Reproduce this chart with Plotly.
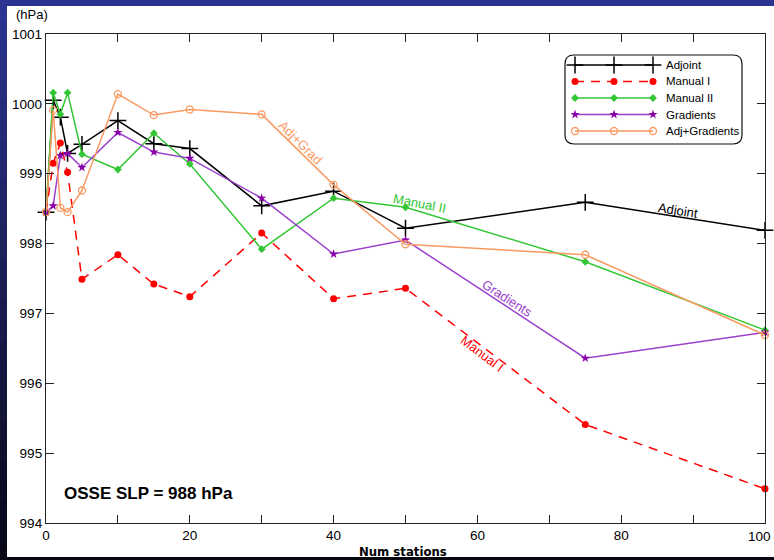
import plotly.graph_objects as go

# ---------------- data ----------------
stations = [0, 1, 2, 3, 5, 10, 15, 20, 30, 40, 50, 75, 100]
adjoint = [998.45, 1000.05, 999.81, 999.29, 999.42, 999.76, 999.43, 999.36, 998.54, 998.75, 998.22, 998.59, 998.19]
manual_1 = [998.45, 999.15, 999.44, 999.02, 997.49, 997.84, 997.42, 997.24, 998.15, 997.21, 997.36, 995.41, 994.49]
manual_2 = [998.45, 1000.16, 999.85, 1000.16, 999.28, 999.06, 999.58, 999.14, 997.92, 998.65, 998.52, 997.74, 996.76]
gradients = [998.45, 998.54, 999.26, 999.29, 999.09, 999.59, 999.31, 999.22, 998.65, 997.85, 998.05, 996.36, 996.73]
adj_grad = [998.45, 999.91, 998.51, 998.45, 998.76, 1000.14, 999.84, 999.92, 999.85, 998.84, 997.99, 997.84, 996.69]

series_names = ["Adjoint", "Manual I", "Manual II", "Gradients", "Adj+Gradients"]
x_tickvals = [0, 10, 20, 30, 40, 50, 60, 70, 80, 90, 100]
x_ticktext = ["0", "", "20", "", "40", "", "60", "", "80", "", ""]
x_last_label = "100"
y_tickvals = [994, 995, 996, 997, 998, 999, 1000, 1001]

# ---------------- geometry ----------------
W, H = 774, 560
L, R, T, B = 46, 9, 34, 37
PW, PH = W - L - R, H - T - B


def px(x):
    return (x - L) / PW


def py(y):
    return (H - B - y) / PH


BLACK = "#000000"
RED = "#ff0000"
GREEN = "#33c633"
PURPLE = "#9a3fcc"
PURPLE_M = "#8a00a8"
ORANGE = "#f99a62"
FONT = "Liberation Sans, Arial, sans-serif"

styles = [
    dict(line=dict(color=BLACK, width=1.5),
         marker=dict(symbol="cross-thin-open", size=12, line=dict(color=BLACK, width=1.5))),
    dict(line=dict(color=RED, width=1.5, dash="9px,7px"),
         marker=dict(symbol="circle", size=7, color=RED)),
    dict(line=dict(color=GREEN, width=1.5),
         marker=dict(symbol="diamond", size=6, color=GREEN)),
    dict(line=dict(color=PURPLE, width=1.5),
         marker=dict(symbol="star", size=7, color=PURPLE_M)),
    dict(line=dict(color=ORANGE, width=1.5),
         marker=dict(symbol="circle-open", size=7, color=ORANGE, line=dict(color=ORANGE, width=1.3))),
]
values = [adjoint, manual_1, manual_2, gradients, adj_grad]

fig = go.Figure()
for name, vals, st in zip(series_names, values, styles):
    fig.add_trace(go.Scatter(x=stations, y=vals, mode="lines+markers", name=name,
                             showlegend=False, cliponaxis=False, **st))

# custom legend (three markers per entry) on an overlay axis
for k, (name, st) in enumerate(zip(series_names, styles)):
    fig.add_trace(go.Scatter(x=[0, 1, 2], y=[k, k, k], mode="lines+markers", xaxis="x2", yaxis="y2",
                             showlegend=False, hoverinfo="skip", cliponaxis=False, **st))

shapes = []
# background frame
shapes.append(dict(type="rect", xref="paper", yref="paper", x0=px(0), x1=px(W), y0=py(H), y1=py(0),
                   fillcolor="#06060f", line=dict(width=0), layer="below"))
nb = 28
top = (44, 52, 146)
bot = (8, 8, 24)
for i in range(nb):
    t = i / (nb - 1)
    c = tuple(int(top[j] + (bot[j] - top[j]) * t) for j in range(3))
    shapes.append(dict(type="rect", xref="paper", yref="paper",
                       x0=px(0), x1=px(8), y0=py((i + 1) * H / nb + 1), y1=py(i * H / nb),
                       fillcolor="rgb(%d,%d,%d)" % c, line=dict(width=0), layer="below"))
shapes.append(dict(type="rect", xref="paper", yref="paper", x0=px(0), x1=px(W), y0=py(6), y1=py(0),
                   fillcolor="rgb(44,52,146)", line=dict(width=0), layer="below"))
shapes.append(dict(type="rect", xref="paper", yref="paper", x0=px(7), x1=px(W), y0=py(557), y1=py(6),
                   fillcolor="#ffffff", line=dict(width=0), layer="below"))

# legend rounded box
bx0, bx1, by0, by1, r = 565, 742, 55, 144, 9
path = (f"M {px(bx0 + r)},{py(by0)} L {px(bx1 - r)},{py(by0)} "
        f"Q {px(bx1)},{py(by0)} {px(bx1)},{py(by0 + r)} L {px(bx1)},{py(by1 - r)} "
        f"Q {px(bx1)},{py(by1)} {px(bx1 - r)},{py(by1)} L {px(bx0 + r)},{py(by1)} "
        f"Q {px(bx0)},{py(by1)} {px(bx0)},{py(by1 - r)} L {px(bx0)},{py(by0 + r)} "
        f"Q {px(bx0)},{py(by0)} {px(bx0 + r)},{py(by0)} Z")
shapes.append(dict(type="path", xref="paper", yref="paper", path=path,
                   line=dict(color="#111111", width=1.2), fillcolor="rgba(255,255,255,1)", layer="below"))

annotations = []
# legend labels
leg_y = [65, 81.5, 98, 114.5, 131]
for name, yy in zip(series_names, leg_y):
    annotations.append(dict(xref="paper", yref="paper", x=px(664), y=py(yy), text=name, showarrow=False,
                            xanchor="left", yanchor="middle", font=dict(family=FONT, size=11.5, color="#000")))

# in-plot line labels
labels = [
    ("Adj+Grad", 35.4, 999.45, 45, ORANGE),
    ("Manual II", 52.0, 998.58, 11, GREEN),
    ("Gradients", 64.2, 997.22, 33, PURPLE),
    ("Manual I", 60.6, 996.42, 37, RED),
    ("Adjoint", 87.9, 998.48, 9, BLACK),
]
for txt, lx, ly, ang, col in labels:
    annotations.append(dict(x=lx, y=ly, xref="x", yref="y", text=txt, showarrow=False, textangle=ang,
                            font=dict(family=FONT, size=13, color=col)))

# last x tick label, kept inside the page
annotations.append(dict(xref="paper", yref="paper", x=px(773), y=py(536), text=x_last_label, showarrow=False,
                        xanchor="right", yanchor="middle", font=dict(family=FONT, size=13.5, color="#000")))

annotations.append(dict(xref="paper", yref="paper", x=px(14), y=py(15), text="(hPa)", showarrow=False,
                        xanchor="left", yanchor="middle", font=dict(family=FONT, size=13, color="#000")))
annotations.append(dict(xref="paper", yref="paper", x=px(62), y=py(493), text="<b>OSSE SLP = 988 hPa</b>",
                        showarrow=False, xanchor="left", yanchor="middle",
                        font=dict(family=FONT, size=17, color="#000")))
annotations.append(dict(xref="paper", yref="paper", x=px(403), y=py(551), text="<b>Num stations</b>",
                        showarrow=False, xanchor="center", yanchor="middle",
                        font=dict(family="Liberation Sans Narrow, DejaVu Sans Condensed, Arial Narrow, sans-serif",
                                  size=13, color="#000")))

axis_common = dict(showgrid=False, zeroline=False, showline=True, mirror="ticks", linecolor="#222222",
                   linewidth=1.3, ticks="inside", ticklen=8, tickwidth=1.2, tickcolor="#222222",
                   ticklabeloverflow="allow", automargin=False,
                   tickfont=dict(family=FONT, size=13.5, color="#000"))

fig.update_layout(
    width=W, height=H,
    margin=dict(l=L, r=R, t=T, b=B, pad=0, autoexpand=False),
    paper_bgcolor="#06060f",
    plot_bgcolor="rgba(255,255,255,0)",
    showlegend=False,
    xaxis=dict(range=[0, 100], tickmode="array", tickvals=x_tickvals, ticktext=x_ticktext, **axis_common),
    yaxis=dict(range=[994, 1001], tickmode="array", tickvals=y_tickvals, **axis_common),
    xaxis2=dict(domain=[px(566), px(662)], range=[(566 - 575) / 39, (662 - 575) / 39], anchor="y2",
                visible=False, fixedrange=True),
    yaxis2=dict(domain=[py(139), py(57)], range=[(139 - 65) / 16.5, (57 - 65) / 16.5], anchor="x2",
                visible=False, fixedrange=True),
    shapes=shapes,
    annotations=annotations,
)

fig.write_html("out.html", config={"displayModeBar": False},
               post_script="document.body.style.margin='0';document.body.style.padding='0';"
                           "document.body.style.overflow='hidden';document.body.style.background='#06060f';")
